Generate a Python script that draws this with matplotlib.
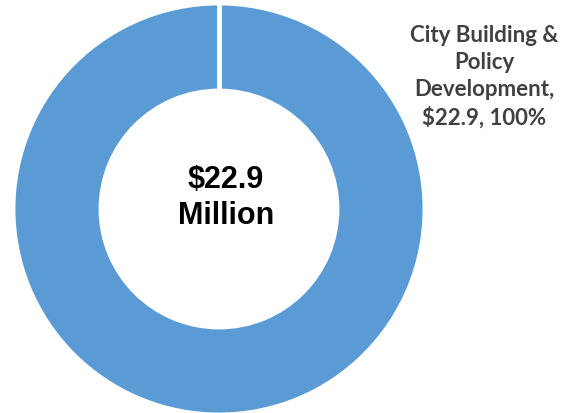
import matplotlib.pyplot as plt

# data
categories = ["City Building &\nPolicy\nDevelopment"]
values = [22.9]
total = sum(values)

cx, cy, r, w = 219, 204, 206, 88

fig = plt.figure(figsize=(5.71, 4.14), dpi=100)
ax = fig.add_axes([0, 0, 1, 1])

ax.pie(values, colors=["#5B9BD5"], startangle=90, counterclock=False,
       center=(cx, cy), radius=r,
       wedgeprops=dict(width=w, edgecolor="white", linewidth=3.5))
# white separator where the single slice starts/ends
ax.plot([cx, cx], [cy + r - w - 2, cy + r + 2], color="white", lw=3.5,
        solid_capstyle="butt")

# pie resets the limits, so set them afterwards
ax.set_xlim(0, 571)
ax.set_ylim(0, 414)
ax.set_aspect("equal")
ax.axis("off")

# center total
ax.text(226, 216, "$%.1f\nMillion" % total, ha="center", va="center",
        fontsize=22, fontweight="bold", family="Liberation Sans",
        linespacing=1.25, color="black")

# slice label
for cat, v in zip(categories, values):
    ax.text(484, 337, "%s,\n$%.1f, %d%%" % (cat, v, round(v / total * 100)),
            ha="center", va="center", fontsize=16, fontweight="bold",
            family="Lato", color="#404040", linespacing=1.35)

fig.savefig("out.png", dpi=100)
